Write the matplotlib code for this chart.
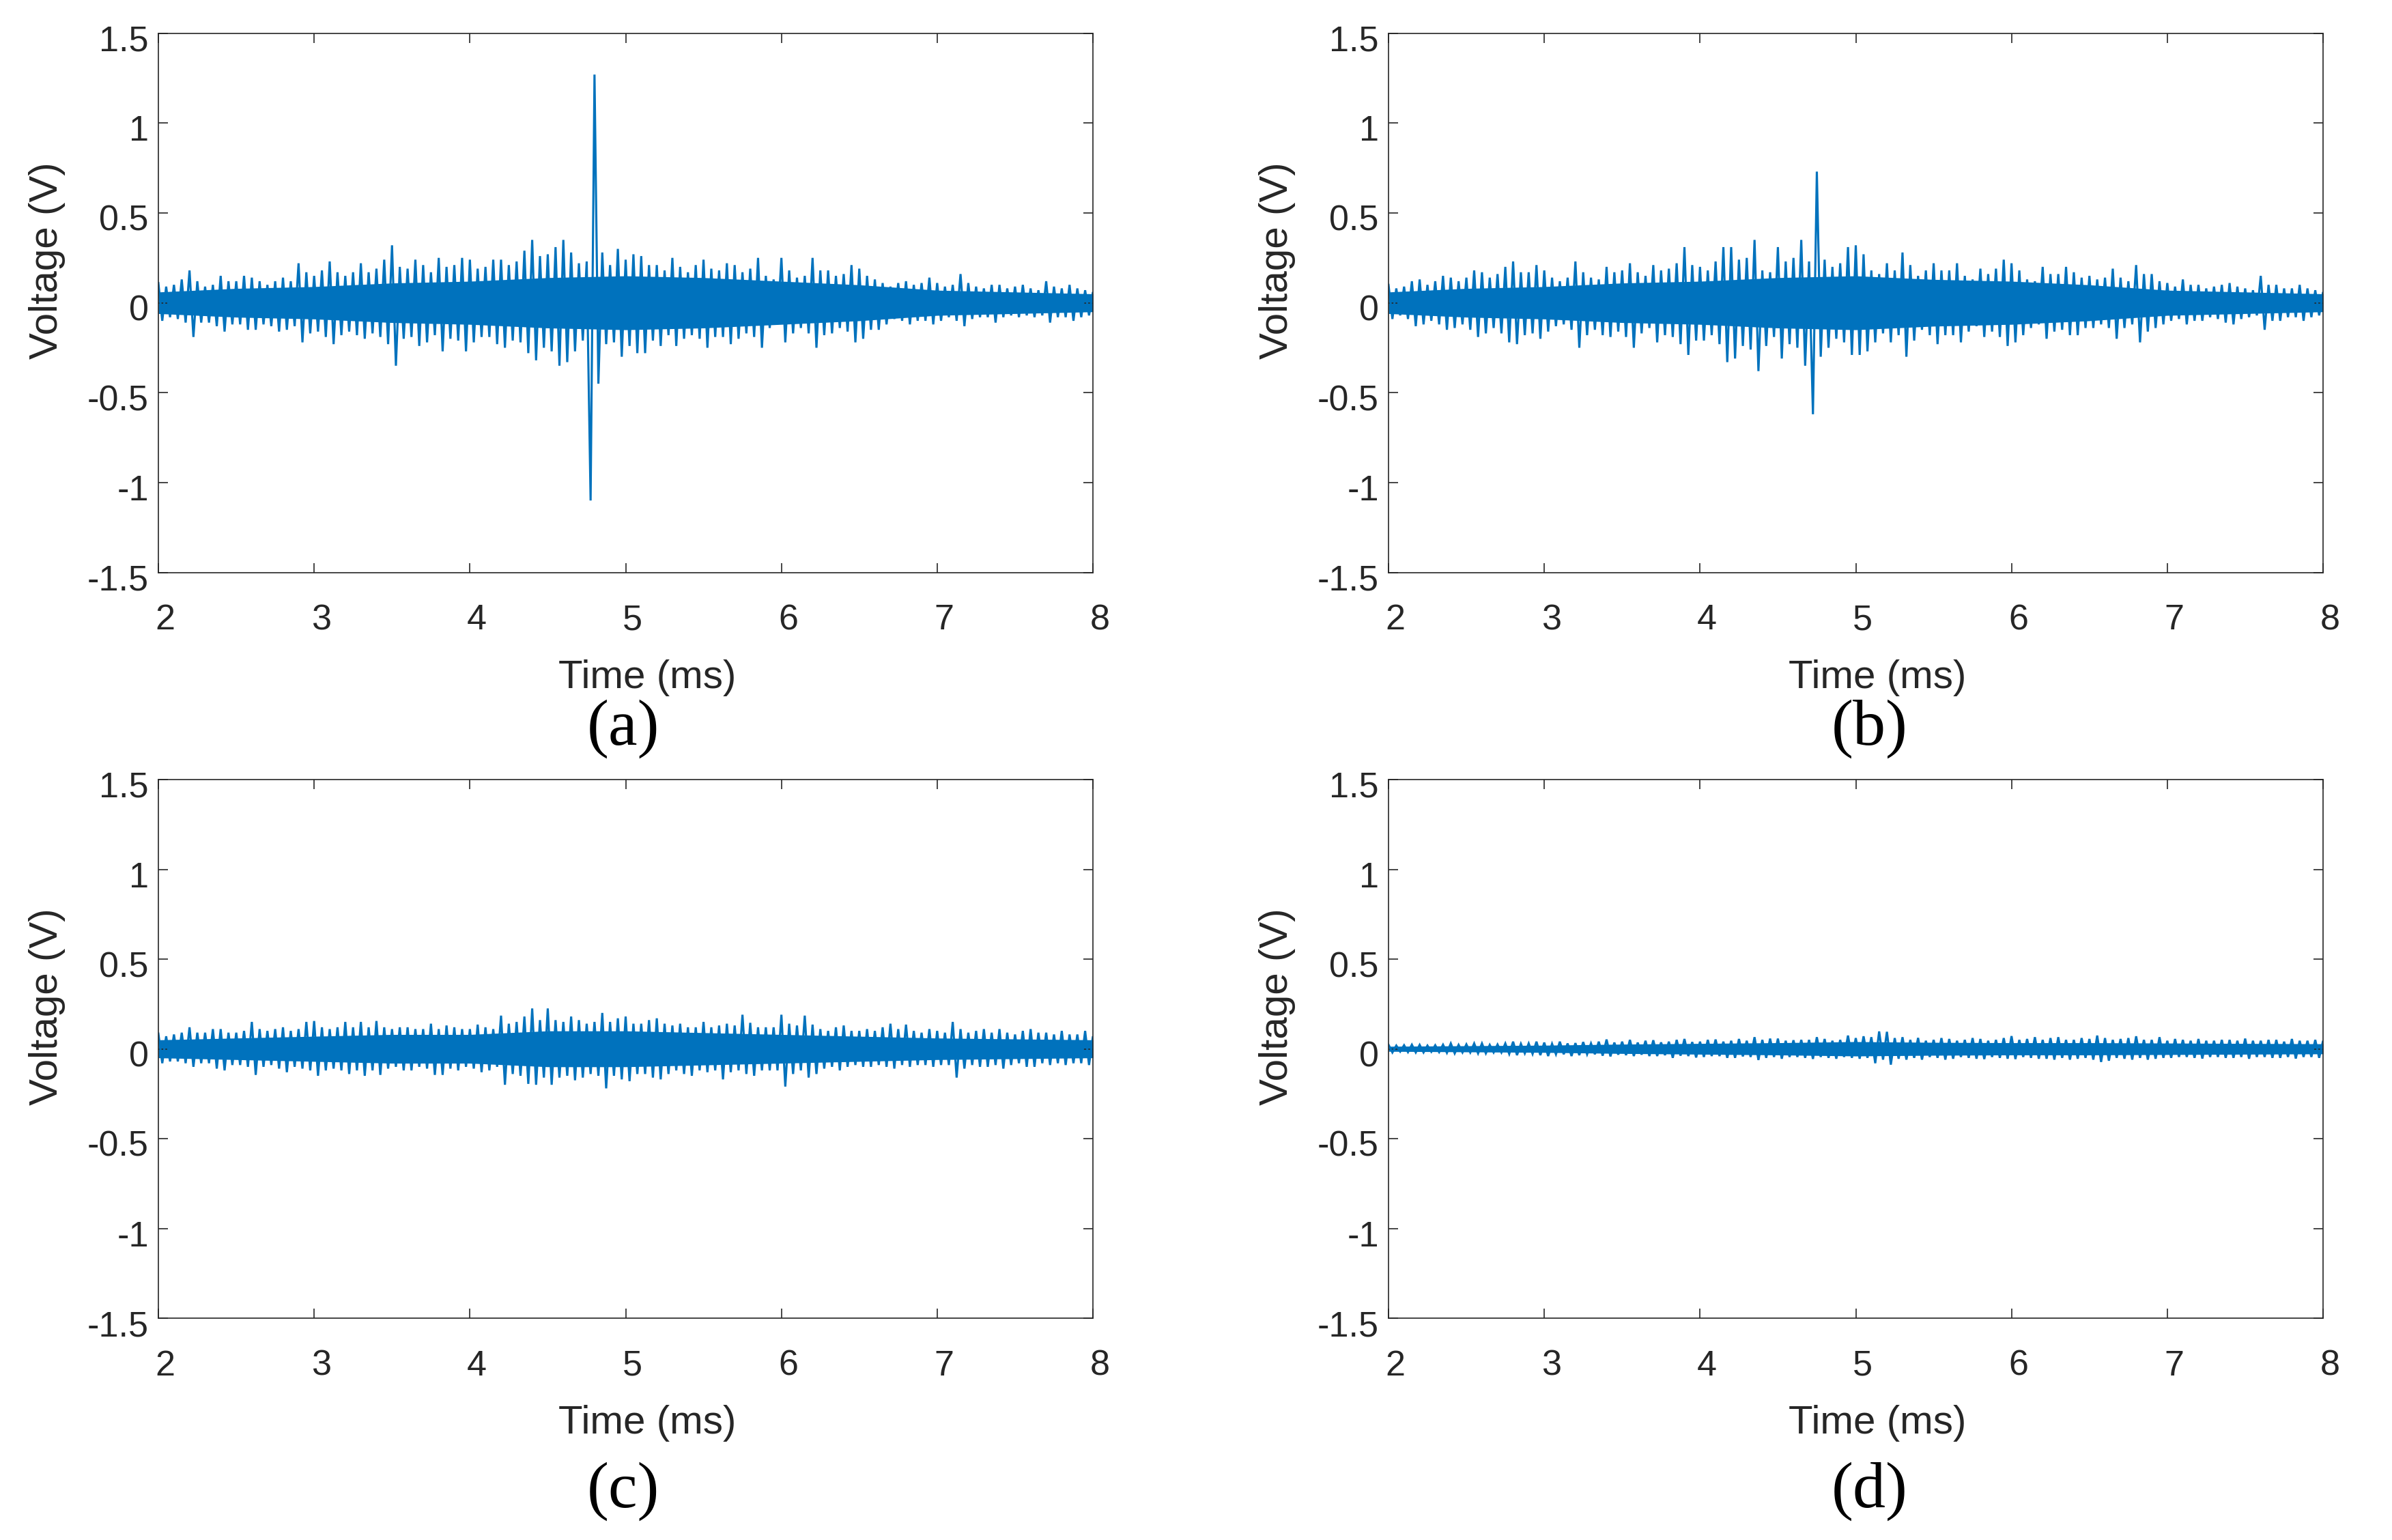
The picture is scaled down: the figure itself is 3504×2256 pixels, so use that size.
import numpy as np
import matplotlib
matplotlib.use('Agg')
import matplotlib.pyplot as plt
from matplotlib.transforms import ScaledTranslation

plt.rcParams['font.family'] = ['Liberation Sans', 'DejaVu Sans']

# ---------------- data ----------------
T_START = 2.0       # ms, first sample of the peak arrays
T_STEP = 0.05       # ms between successive upper peaks
# upper peaks at T_START + k*T_STEP, lower peaks half a step later (V)
A_UP = [0.11, 0.09, 0.10, 0.13, 0.18, 0.12, 0.09, 0.10, 0.15, 0.12,
        0.12, 0.15, 0.14, 0.12, 0.10, 0.12, 0.14, 0.12, 0.22, 0.17,
        0.15, 0.18, 0.23, 0.17, 0.15, 0.17, 0.22, 0.17, 0.19, 0.24,
        0.32, 0.20, 0.19, 0.24, 0.21, 0.17, 0.25, 0.20, 0.21, 0.25,
        0.24, 0.19, 0.20, 0.24, 0.24, 0.21, 0.23, 0.29, 0.35, 0.26,
        0.27, 0.31, 0.35, 0.28, 0.22, 0.23, 1.27, 0.28, 0.21, 0.30,
        0.24, 0.27, 0.26, 0.21, 0.21, 0.18, 0.25, 0.20, 0.17, 0.21,
        0.24, 0.19, 0.18, 0.22, 0.21, 0.17, 0.19, 0.25, 0.15, 0.13,
        0.25, 0.18, 0.14, 0.15, 0.25, 0.18, 0.18, 0.15, 0.16, 0.21,
        0.19, 0.15, 0.13, 0.11, 0.09, 0.11, 0.12, 0.10, 0.11, 0.14,
        0.11, 0.09, 0.10, 0.16, 0.11, 0.09, 0.08, 0.10, 0.10, 0.08,
        0.09, 0.10, 0.08, 0.07, 0.12, 0.09, 0.08, 0.10, 0.08, 0.07,
        0.06]
A_DN = [-0.10, -0.08, -0.09, -0.11, -0.19, -0.11, -0.11, -0.13, -0.16, -0.12,
        -0.12, -0.15, -0.15, -0.12, -0.13, -0.16, -0.15, -0.13, -0.22, -0.17,
        -0.16, -0.19, -0.23, -0.18, -0.16, -0.18, -0.20, -0.17, -0.19, -0.23,
        -0.35, -0.20, -0.19, -0.24, -0.22, -0.18, -0.27, -0.20, -0.21, -0.27,
        -0.22, -0.19, -0.19, -0.23, -0.25, -0.21, -0.22, -0.28, -0.32, -0.25,
        -0.27, -0.35, -0.33, -0.27, -0.21, -1.10, -0.45, -0.23, -0.22, -0.30,
        -0.24, -0.28, -0.28, -0.21, -0.24, -0.18, -0.24, -0.20, -0.18, -0.20,
        -0.25, -0.19, -0.19, -0.23, -0.20, -0.17, -0.19, -0.25, -0.14, -0.12,
        -0.22, -0.17, -0.14, -0.17, -0.25, -0.18, -0.17, -0.14, -0.16, -0.22,
        -0.20, -0.15, -0.15, -0.12, -0.09, -0.10, -0.12, -0.10, -0.10, -0.12,
        -0.10, -0.08, -0.10, -0.13, -0.09, -0.08, -0.08, -0.11, -0.08, -0.07,
        -0.08, -0.07, -0.08, -0.07, -0.11, -0.08, -0.08, -0.10, -0.08, -0.07,
        -0.06]

B_UP = [0.10, 0.08, 0.09, 0.12, 0.13, 0.10, 0.12, 0.15, 0.14, 0.12,
        0.14, 0.18, 0.17, 0.14, 0.16, 0.20, 0.23, 0.17, 0.17, 0.21,
        0.18, 0.14, 0.12, 0.14, 0.23, 0.17, 0.14, 0.13, 0.20, 0.17,
        0.18, 0.22, 0.17, 0.15, 0.21, 0.18, 0.19, 0.22, 0.31, 0.21,
        0.20, 0.18, 0.23, 0.31, 0.31, 0.24, 0.25, 0.35, 0.18, 0.17,
        0.31, 0.23, 0.25, 0.35, 0.23, 0.73, 0.24, 0.20, 0.22, 0.31,
        0.32, 0.27, 0.18, 0.16, 0.22, 0.18, 0.28, 0.21, 0.15, 0.18,
        0.22, 0.18, 0.18, 0.22, 0.15, 0.13, 0.19, 0.16, 0.19, 0.24,
        0.22, 0.18, 0.13, 0.12, 0.20, 0.16, 0.16, 0.20, 0.17, 0.14,
        0.15, 0.13, 0.14, 0.19, 0.14, 0.12, 0.21, 0.16, 0.16, 0.12,
        0.11, 0.09, 0.13, 0.10, 0.10, 0.08, 0.09, 0.10, 0.11, 0.09,
        0.08, 0.07, 0.15, 0.10, 0.10, 0.08, 0.08, 0.10, 0.08, 0.07,
        0.06]
B_DN = [-0.09, -0.07, -0.09, -0.13, -0.12, -0.10, -0.12, -0.15, -0.14, -0.12,
        -0.15, -0.19, -0.17, -0.14, -0.17, -0.22, -0.23, -0.18, -0.17, -0.20,
        -0.16, -0.13, -0.12, -0.15, -0.25, -0.18, -0.15, -0.18, -0.19, -0.16,
        -0.19, -0.25, -0.17, -0.14, -0.22, -0.18, -0.19, -0.23, -0.29, -0.21,
        -0.21, -0.18, -0.23, -0.33, -0.31, -0.24, -0.26, -0.38, -0.24, -0.19,
        -0.31, -0.23, -0.25, -0.35, -0.62, -0.30, -0.25, -0.20, -0.22, -0.29,
        -0.29, -0.27, -0.22, -0.17, -0.22, -0.18, -0.30, -0.21, -0.15, -0.18,
        -0.23, -0.18, -0.18, -0.22, -0.16, -0.13, -0.19, -0.16, -0.19, -0.24,
        -0.22, -0.18, -0.14, -0.12, -0.20, -0.16, -0.15, -0.18, -0.18, -0.14,
        -0.14, -0.12, -0.14, -0.20, -0.14, -0.12, -0.22, -0.16, -0.14, -0.12,
        -0.10, -0.09, -0.12, -0.10, -0.10, -0.08, -0.09, -0.11, -0.12, -0.09,
        -0.08, -0.07, -0.15, -0.10, -0.10, -0.08, -0.08, -0.10, -0.08, -0.07,
        -0.06]

C_UP = [0.085, 0.07, 0.08, 0.09, 0.12, 0.09, 0.09, 0.11, 0.11, 0.09,
        0.09, 0.10, 0.15, 0.11, 0.10, 0.11, 0.12, 0.10, 0.11, 0.15,
        0.155, 0.12, 0.11, 0.12, 0.15, 0.12, 0.15, 0.12, 0.155, 0.12,
        0.11, 0.12, 0.12, 0.11, 0.11, 0.14, 0.11, 0.13, 0.12, 0.11,
        0.11, 0.135, 0.12, 0.11, 0.185, 0.14, 0.15, 0.18, 0.225, 0.16,
        0.225, 0.16, 0.15, 0.18, 0.16, 0.14, 0.15, 0.20, 0.15, 0.17,
        0.18, 0.14, 0.14, 0.16, 0.17, 0.14, 0.13, 0.14, 0.12, 0.12,
        0.15, 0.12, 0.13, 0.14, 0.13, 0.19, 0.145, 0.12, 0.12, 0.12,
        0.19, 0.14, 0.13, 0.185, 0.135, 0.11, 0.10, 0.12, 0.13, 0.10,
        0.10, 0.11, 0.10, 0.12, 0.14, 0.11, 0.135, 0.10, 0.09, 0.11,
        0.10, 0.09, 0.15, 0.11, 0.09, 0.10, 0.11, 0.09, 0.11, 0.09,
        0.08, 0.10, 0.11, 0.09, 0.09, 0.08, 0.10, 0.08, 0.08, 0.10,
        0.07]
C_DN = [-0.08, -0.07, -0.07, -0.08, -0.10, -0.08, -0.08, -0.11, -0.12, -0.09,
        -0.09, -0.10, -0.145, -0.10, -0.09, -0.11, -0.13, -0.10, -0.11, -0.12,
        -0.15, -0.12, -0.11, -0.12, -0.14, -0.12, -0.15, -0.12, -0.145, -0.11,
        -0.10, -0.12, -0.12, -0.10, -0.11, -0.145, -0.145, -0.11, -0.12, -0.10,
        -0.11, -0.13, -0.12, -0.10, -0.20, -0.14, -0.15, -0.195, -0.20, -0.16,
        -0.20, -0.16, -0.15, -0.175, -0.16, -0.14, -0.15, -0.22, -0.15, -0.17,
        -0.18, -0.14, -0.14, -0.16, -0.17, -0.14, -0.12, -0.14, -0.15, -0.12,
        -0.13, -0.12, -0.17, -0.13, -0.12, -0.14, -0.15, -0.12, -0.12, -0.12,
        -0.21, -0.14, -0.12, -0.16, -0.14, -0.11, -0.10, -0.12, -0.10, -0.09,
        -0.10, -0.10, -0.09, -0.10, -0.11, -0.09, -0.10, -0.09, -0.09, -0.10,
        -0.09, -0.09, -0.16, -0.11, -0.09, -0.10, -0.10, -0.09, -0.11, -0.09,
        -0.08, -0.10, -0.10, -0.08, -0.09, -0.08, -0.09, -0.08, -0.08, -0.09,
        -0.07]

D_UP = [0.023, 0.018, 0.020, 0.023, 0.022, 0.018, 0.020, 0.023, 0.030, 0.022,
        0.025, 0.030, 0.030, 0.022, 0.024, 0.030, 0.040, 0.028, 0.030, 0.040,
        0.035, 0.028, 0.040, 0.030, 0.032, 0.038, 0.030, 0.040, 0.052, 0.035,
        0.040, 0.050, 0.035, 0.045, 0.048, 0.036, 0.040, 0.050, 0.055, 0.038,
        0.040, 0.050, 0.052, 0.040, 0.045, 0.055, 0.045, 0.065, 0.050, 0.057,
        0.057, 0.045, 0.048, 0.050, 0.050, 0.065, 0.055, 0.045, 0.050, 0.074,
        0.060, 0.070, 0.065, 0.097, 0.095, 0.060, 0.065, 0.050, 0.061, 0.045,
        0.050, 0.060, 0.055, 0.045, 0.050, 0.060, 0.055, 0.045, 0.050, 0.060,
        0.071, 0.050, 0.055, 0.065, 0.050, 0.060, 0.065, 0.050, 0.050, 0.060,
        0.055, 0.074, 0.060, 0.050, 0.055, 0.060, 0.070, 0.050, 0.050, 0.065,
        0.045, 0.055, 0.050, 0.045, 0.055, 0.045, 0.045, 0.050, 0.050, 0.045,
        0.057, 0.045, 0.045, 0.050, 0.050, 0.040, 0.055, 0.045, 0.045, 0.050,
        0.045]
D_DN = [-0.020, -0.015, -0.018, -0.020, -0.020, -0.016, -0.018, -0.022, -0.025, -0.020,
        -0.020, -0.025, -0.025, -0.020, -0.020, -0.028, -0.035, -0.025, -0.028, -0.035,
        -0.040, -0.030, -0.030, -0.040, -0.035, -0.030, -0.030, -0.038, -0.042, -0.032,
        -0.035, -0.040, -0.032, -0.040, -0.040, -0.035, -0.050, -0.038, -0.040, -0.048,
        -0.045, -0.040, -0.040, -0.050, -0.050, -0.042, -0.045, -0.062, -0.050, -0.045,
        -0.055, -0.045, -0.045, -0.050, -0.056, -0.045, -0.050, -0.055, -0.045, -0.050,
        -0.055, -0.050, -0.080, -0.060, -0.088, -0.055, -0.060, -0.050, -0.060, -0.045,
        -0.050, -0.060, -0.055, -0.045, -0.050, -0.055, -0.057, -0.045, -0.050, -0.055,
        -0.057, -0.045, -0.050, -0.055, -0.055, -0.060, -0.050, -0.060, -0.055, -0.050,
        -0.060, -0.073, -0.066, -0.050, -0.055, -0.060, -0.050, -0.060, -0.055, -0.050,
        -0.050, -0.045, -0.045, -0.050, -0.054, -0.045, -0.045, -0.050, -0.050, -0.045,
        -0.055, -0.045, -0.045, -0.050, -0.050, -0.045, -0.054, -0.045, -0.045, -0.050,
        -0.045]

# half-width of the dense, solid-looking core of each trace, every 0.5 ms (V)
CORE_T = [2.0, 2.5, 3.0, 3.5, 4.0, 4.5, 5.0, 5.5, 6.0, 6.5, 7.0, 7.5, 8.0]
A_CORE = [0.06, 0.08, 0.09, 0.11, 0.12, 0.14, 0.15, 0.14, 0.12, 0.10, 0.07, 0.06, 0.05]
B_CORE = [0.06, 0.08, 0.09, 0.11, 0.12, 0.14, 0.15, 0.13, 0.12, 0.10, 0.07, 0.06, 0.05]
C_CORE = [0.05, 0.06, 0.07, 0.08, 0.08, 0.10, 0.10, 0.09, 0.08, 0.07, 0.06, 0.055, 0.05]
D_CORE = [0.014, 0.017, 0.02, 0.026, 0.03, 0.034, 0.04, 0.036, 0.034, 0.034, 0.032, 0.03, 0.028]

PANEL_TAGS = ['(a)', '(b)', '(c)', '(d)']
XTICKS = [2, 3, 4, 5, 6, 7, 8]
YTICKS = [-1.5, -1, -0.5, 0, 0.5, 1, 1.5]
YTICKLABELS = ['-1.5', '-1', '-0.5', '0', '0.5', '1', '1.5']
XLABEL = 'Time (ms)'
YLABEL = 'Voltage (V)'

# ---------------- style / layout ----------------
W, H = 3504, 2256
DPI = 300
LINE_COLOR = '#0072BD'
AX_COLOR = '#262626'

# axes boxes in pixels: left, top, right, bottom
BOXES = [(232, 48.7, 1601, 838.5), (2034, 48.7, 3403, 838.5),
         (232, 1142, 1601, 1931), (2034, 1142, 3403, 1931)]
TAG_POS = [(913, 1091), (2739, 1091), (913, 2208), (2739, 2208)]

fig = plt.figure(figsize=(W / DPI, H / DPI), dpi=DPI)

series = [(A_UP, A_DN, A_CORE), (B_UP, B_DN, B_CORE),
          (C_UP, C_DN, C_CORE), (D_UP, D_DN, D_CORE)]

axes = []
for (up, dn, core), box, tag, tpos in zip(series, BOXES, PANEL_TAGS, TAG_POS):
    l, t, r, b = box
    ax = fig.add_axes([l / W, 1 - b / H, (r - l) / W, (b - t) / H])
    axes.append(ax)
    up = np.asarray(up)
    dn = np.asarray(dn)
    t_up = T_START + T_STEP * np.arange(len(up))
    t_dn = t_up + T_STEP / 2
    x = np.empty(2 * len(up))
    y = np.empty(2 * len(up))
    x[0::2], x[1::2] = t_up, t_dn
    y[0::2], y[1::2] = up, dn
    core = np.asarray(core)
    ax.fill_between(CORE_T, -core, core, color=LINE_COLOR, lw=0)
    ax.plot(x, y, color=LINE_COLOR, lw=0.75, solid_joinstyle='miter')

    ax.set_xlim(2, 8)
    ax.set_ylim(-1.5, 1.5)
    ax.set_xticks(XTICKS)
    ax.set_xticklabels([str(v) for v in XTICKS])
    ax.set_yticks(YTICKS)
    ax.set_yticklabels(YTICKLABELS)
    ax.tick_params(direction='in', length=3.3, width=0.4, color=AX_COLOR,
                   labelcolor=AX_COLOR, labelsize=12.5, top=True, right=True)
    ax.tick_params(axis='x', pad=11)
    ax.tick_params(axis='y', pad=3.4)
    for s in ax.spines.values():
        s.set_linewidth(0.4)
        s.set_color(AX_COLOR)

    ax.set_xlabel(XLABEL, fontsize=14, color=AX_COLOR, va='baseline')
    ax.xaxis.set_label_coords(0.5234, -0.2142)
    ax.set_ylabel(YLABEL, fontsize=14, color=AX_COLOR, va='center')
    ax.yaxis.set_label_coords(-0.1187, 0.5786)

    fig.text(tpos[0] / W, 1 - tpos[1] / H, tag, family=['Liberation Serif', 'DejaVu Serif'],
             fontsize=23, ha='center', va='baseline', color='black')

fig.canvas.draw()
dx = ScaledTranslation(10 / DPI, 0, fig.dpi_scale_trans)
dy = ScaledTranslation(0, -7 / DPI, fig.dpi_scale_trans)
for ax in axes:
    for lbl in ax.get_xticklabels():
        lbl.set_transform(lbl.get_transform() + dx)
    for lbl in ax.get_yticklabels():
        lbl.set_transform(lbl.get_transform() + dy)

fig.savefig('out.png', dpi=DPI)
